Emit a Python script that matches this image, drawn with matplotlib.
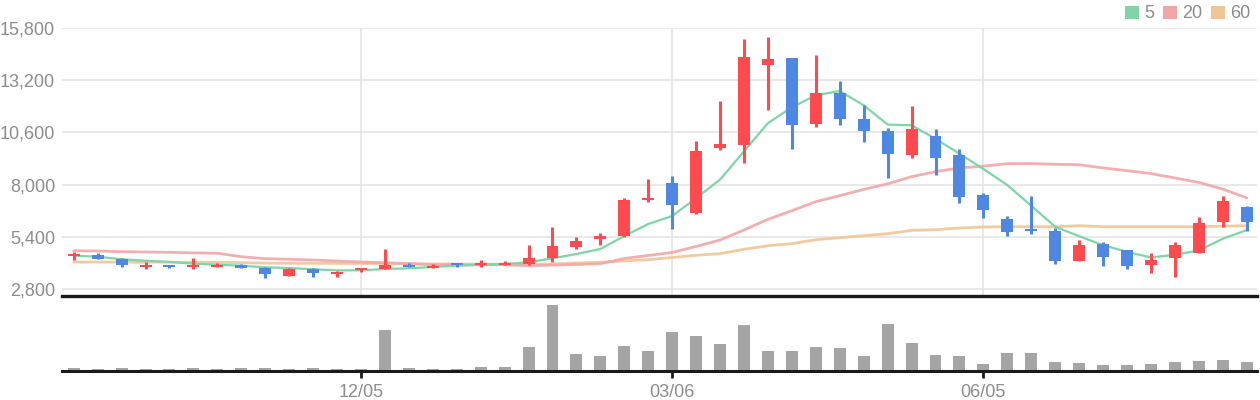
import matplotlib
matplotlib.use("Agg")
import matplotlib.pyplot as plt
from matplotlib.patches import Patch
import numpy as np

# ---- data ----
opens = [4460, 4490, 4310, 3910, 4000, 3910, 3910, 4010, 3860, 3460,
         3800, 3560, 3750, 3800, 4010, 3860, 4090, 4010, 4010, 4060,
         4360, 4910, 5310, 5440, 7230, 8080, 6590, 9820, 9970, 13960,
         14310, 11020, 12560, 11270, 10670, 9470, 10420, 9470, 7480, 6290,
         5800, 5690, 4190, 5040, 4740, 4000, 4340, 4590, 6140, 6890]
highs = [4640, 4590, 4340, 4140, 4010, 4340, 4090, 4060, 3900, 3850,
         3850, 3710, 3850, 4790, 4090, 4060, 4090, 4240, 4190, 4990,
         5890, 5390, 5590, 7330, 8280, 8430, 10170, 12160, 15250, 15350,
         14310, 14460, 13160, 11970, 10820, 11920, 10770, 9770, 7580, 6440,
         7430, 5840, 5240, 5140, 4740, 4590, 5140, 6390, 7430, 6930]
lows = [4260, 4300, 3910, 3800, 3860, 3800, 3910, 3860, 3360, 3460,
        3410, 3410, 3660, 3800, 3900, 3860, 3910, 3910, 4000, 4010,
        4160, 4810, 4990, 5390, 7130, 5790, 6540, 9720, 9090, 11720,
        9770, 10870, 10970, 10120, 8330, 9330, 8480, 7080, 6340, 5440,
        5550, 4050, 4190, 3950, 3800, 3600, 3400, 4590, 5890, 5690]
closes = [4540, 4310, 4010, 4010, 3920, 4010, 4010, 3860, 3560, 3800,
          3610, 3660, 3850, 4010, 3910, 3960, 4000, 4110, 4110, 4360,
          4940, 5190, 5440, 7230, 7330, 6980, 9670, 10020, 14360, 14260,
          10970, 12560, 11270, 10670, 9520, 10770, 9330, 7380, 6740, 5640,
          5700, 4190, 4990, 4390, 3950, 4240, 4990, 6090, 7180, 6140]
ma5 = [4460, 4410, 4280, 4210, 4150, 4060, 4010, 3960, 3880, 3846,
       3780, 3730, 3730, 3796, 3830, 3896, 3960, 4010, 4045, 4130,
       4330, 4543, 4792, 5440, 6038, 6436, 7330, 8250, 9660, 11060,
       11850, 12450, 12660, 11950, 10990, 10955, 10280, 9540, 8780, 7975,
       6945, 5900, 5430, 4985, 4650, 4370, 4505, 4720, 5300, 5735]
ma20 = [4708, 4690, 4660, 4643, 4627, 4600, 4580, 4410, 4310, 4280,
        4244, 4195, 4145, 4110, 4060, 4010, 4005, 4000, 4010, 3960,
        3990, 4020, 4060, 4320, 4470, 4620, 4920, 5241, 5739, 6272,
        6700, 7150, 7450, 7760, 8040, 8395, 8643, 8830, 8920, 9042,
        9050, 9010, 8992, 8830, 8693, 8550, 8330, 8110, 7775, 7340]
ma60 = [4145, 4145, 4140, 4140, 4135, 4130, 4130, 4110, 4090, 4080,
        4080, 4075, 4070, 4065, 4060, 4050, 4045, 4040, 4035, 4030,
        4040, 4095, 4130, 4200, 4260, 4370, 4480, 4560, 4777, 4957,
        5057, 5256, 5356, 5455, 5555, 5722, 5754, 5838, 5888, 5903,
        5903, 5903, 5953, 5903, 5903, 5903, 5903, 5903, 5930, 5953]
volume = [7, 4, 7, 4, 4, 7, 4, 7, 7, 4,
          7, 4, 4, 121, 7, 4, 4, 10, 10, 70,
          196, 49, 43, 73, 58, 115, 103, 79, 136, 58,
          58, 70, 67, 43, 139, 82, 46, 43, 19, 52,
          52, 25, 22, 16, 16, 19, 25, 28, 31, 25]
y_ticks = [2800, 5400, 8000, 10600, 13200, 15800]
x_tick_idx = [12, 25, 38]
x_tick_labels = ["12/05", "03/06", "06/05"]
ma_labels = ["5", "20", "60"]

# ---- styles ----
UP = "#ff4b4f"
DOWN = "#4f88e3"
C5 = "#80d4a8"
C20 = "#f1a7a8"
C60 = "#f0c595"
GRID = "#e3e3e3"
TXT = "#8c8c8c"
VOL = "#a5a5a5"

plt.rcParams["font.family"] = ["Liberation Sans", "DejaVu Sans"]

W, H = 1260, 400
fig = plt.figure(figsize=(W / 100, H / 100), dpi=100)
fig.patch.set_facecolor("white")

left = 62 / W
right = 1257 / W
p_bottom = 1 - 296.3 / H
p_top = 1 - 28 / H
v_bottom = 1 - 371.3 / H

ax = fig.add_axes([left, p_bottom, right - left, p_top - p_bottom])
axv = fig.add_axes([left, v_bottom, right - left, p_bottom - v_bottom])

x = np.arange(len(closes))
o = np.array(opens, float)
c = np.array(closes, float)
hi = np.array(highs, float)
lo = np.array(lows, float)
up = c >= o
colors = [UP if u else DOWN for u in up]

xlim = (-0.49, 49.43)
ylo = 2800 - 7.3 * 13000 / 261

# gridlines
for yt in y_ticks:
    ax.axhline(yt, color=GRID, lw=1.1, zorder=0)
for xi in x_tick_idx:
    ax.axvline(xi, color=GRID, lw=1.1, zorder=0)

# moving averages
ax.plot(x, ma60, color=C60, lw=2.0, alpha=0.9, zorder=2, solid_capstyle="round")
ax.plot(x, ma20, color=C20, lw=2.0, alpha=0.9, zorder=2, solid_capstyle="round")
ax.plot(x, ma5, color=C5, lw=1.6, zorder=2, solid_capstyle="round")

# candles
ax.vlines(x, lo, hi, colors=colors, lw=2.2, zorder=3)
body_bottom = np.minimum(o, c)
body_h = np.maximum(np.abs(c - o), 90)
ax.bar(x, body_h, bottom=body_bottom, width=0.5, color=colors, zorder=4, linewidth=0)

ax.set_xlim(*xlim)
ax.set_ylim(ylo, 15800)
ax.set_yticks(y_ticks)
ax.set_yticklabels([f"{v:,}" for v in y_ticks])
ax.set_xticks([])
ax.tick_params(axis="y", length=0, pad=5, labelsize=13, labelcolor=TXT)
for s in ["top", "right", "left"]:
    ax.spines[s].set_visible(False)
ax.spines["bottom"].set_color("#1a1a1a")
ax.spines["bottom"].set_linewidth(2.4)
ax.spines["bottom"].set_zorder(6)
ax.set_facecolor("none")

# volume (bars sit on top of the baseline)
axv.bar(x, volume, width=0.5, color=VOL, linewidth=0)
axv.set_xlim(*xlim)
axv.set_ylim(-3.4, 223)
axv.set_yticks([])
axv.set_xticks(x_tick_idx)
axv.set_xticklabels(x_tick_labels)
axv.tick_params(axis="x", length=5, width=2, color="#1a1a1a", pad=4,
                labelsize=13, labelcolor=TXT)
for s in ["top", "right", "left"]:
    axv.spines[s].set_visible(False)
axv.spines["bottom"].set_color("#1a1a1a")
axv.spines["bottom"].set_linewidth(2.2)
axv.set_facecolor("none")

# legend
handles = [Patch(facecolor=C5), Patch(facecolor=C20), Patch(facecolor=C60)]
fig.legend(handles, ma_labels, loc="upper right", bbox_to_anchor=(1256 / W, 1 - 0 / H),
           ncol=3, frameon=False, fontsize=13, labelcolor=TXT,
           handlelength=0.75, handleheight=0.75, handletextpad=0.3,
           columnspacing=0.5, borderpad=0.2, borderaxespad=0.1)

fig.savefig("out.png", dpi=100, facecolor="white")
